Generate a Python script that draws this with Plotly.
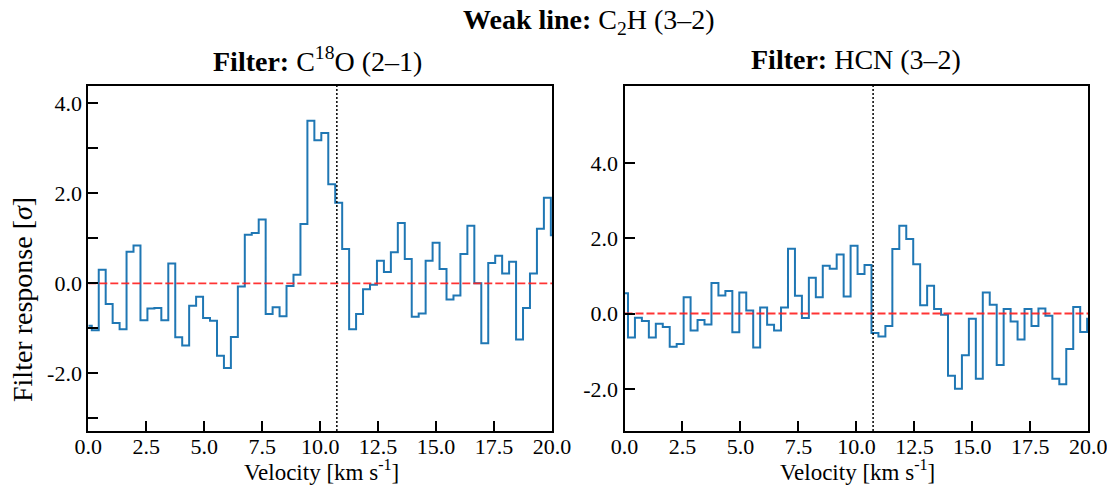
import plotly.graph_objects as go

# ---------------- data ----------------
CHANNEL_WIDTH = 0.3  # km/s
left_values = [-0.94, -1.04, 0.30, -0.46, -0.88, -1.02, 0.70, 0.84, -0.82, -0.56,
               -0.55, -0.82, 0.44, -1.20, -1.38, -0.50, -0.30, -0.77, -0.83, -1.61,
               -1.88, -1.19, -0.07, 1.08, 1.12, 1.42, -0.68, -0.53, -0.73, -0.06,
               0.19, 1.32, 3.61, 3.18, 3.34, 2.20, 1.79, 0.76, -1.02, -0.68,
               -0.13, -0.03, 0.50, 0.25, 0.69, 1.34, 0.54, -0.74, -0.67, 0.50,
               0.90, 0.32, -0.36, -0.27, 0.65, 1.28, 0.00, -1.33, 0.45, 0.61,
               0.22, 0.48, -1.25, -0.55, 0.22, 1.21, 1.90, 1.07]
right_values = [0.54, -0.64, -0.11, -0.20, -0.64, -0.27, -0.36, -0.88, -0.81, 0.43,
                -0.45, -0.17, -0.29, 0.81, 0.48, 0.60, -0.50, 0.56, 0.08, -0.90,
                0.16, -0.30, -0.45, 0.16, 1.72, 0.47, -0.12, 0.95, 0.43, 1.27,
                1.19, 1.57, 0.45, 1.80, 1.05, 1.29, -0.52, -0.61, -0.33, 1.71,
                2.33, 1.98, 1.31, 0.22, 0.74, 0.12, -0.03, -1.65, -2.00, -1.11,
                -0.14, -1.73, 0.56, 0.23, -1.37, 0.12, -0.21, -0.69, 0.12, -0.33,
                0.13, -0.06, -1.73, -1.88, -0.94, 0.17, -0.49, -0.14]
left_velocity = [round(i * CHANNEL_WIDTH, 2) for i in range(len(left_values))]
right_velocity = [round(i * CHANNEL_WIDTH, 2) for i in range(len(right_values))]
V_SOURCE = 10.72  # vertical dotted line (km/s)

x_tickvals = [0.0, 2.5, 5.0, 7.5, 10.0, 12.5, 15.0, 17.5, 20.0]
x_ticktext = ["0.0", "2.5", "5.0", "7.5", "10.0", "12.5", "15.0", "17.5", "20.0"]
left_y_tickvals = [-3, -2, -1, 0, 1, 2, 3, 4]
left_y_ticktext = ["", "-2.0", "", "0.0", "", "2.0", "", "4.0"]
right_y_tickvals = [-2, 0, 2, 4]
right_y_ticktext = ["-2.0", "0.0", "2.0", "4.0"]

main_title = "<b>Weak line:</b> C<sub>2</sub>H (3–2)"
left_title = "<b>Filter:</b> C<sup>18</sup>O (2–1)"
right_title = "<b>Filter:</b> HCN (3–2)"
x_label = "Velocity [km s<sup>-1</sup>]"
y_label = "Filter response [<i>σ</i>]"

# ---------------- layout constants ----------------
W, H = 1107, 491
FONT = "Liberation Serif"
BLUE = "#1f77b4"
RED = "rgba(255,30,30,0.9)"

def px_x(p):
    return p / W

def px_y(p):
    return 1 - p / H

y_dom = [px_y(431), px_y(85.7)]
left_dom = [px_x(88.3), px_x(552)]
right_dom = [px_x(624.5), px_x(1088.3)]

fig = go.Figure()

fig.add_trace(go.Scatter(x=left_velocity, y=left_values, mode="lines",
                         line=dict(shape="hvh", color=BLUE, width=2),
                         xaxis="x", yaxis="y", showlegend=False))
fig.add_trace(go.Scatter(x=[0, 20], y=[0, 0], mode="lines",
                         line=dict(color=RED, width=1.8, dash="8px,3px"),
                         xaxis="x", yaxis="y", showlegend=False))
fig.add_trace(go.Scatter(x=right_velocity, y=right_values, mode="lines",
                         line=dict(shape="hvh", color=BLUE, width=2),
                         xaxis="x2", yaxis="y2", showlegend=False))
fig.add_trace(go.Scatter(x=[0, 20], y=[0, 0], mode="lines",
                         line=dict(color=RED, width=1.8, dash="8px,3px"),
                         xaxis="x2", yaxis="y2", showlegend=False))

for xr, yr in (("x", "y"), ("x2", "y2")):
    fig.add_shape(type="line", xref=xr, yref=yr + " domain", x0=V_SOURCE, x1=V_SOURCE,
                  y0=0, y1=1, line=dict(color="black", width=1.5, dash="2px,2px"))

axis_common = dict(showline=True, linecolor="black", linewidth=2, mirror=True,
                   ticks="inside", ticklen=10, tickwidth=1.6, tickcolor="black",
                   showgrid=False, zeroline=False, automargin=False,
                   ticklabeloverflow="allow",
                   tickfont=dict(family=FONT, size=22, color="black"))
x_common = dict(axis_common, ticklabelstandoff=-5)

fig.update_layout(
    width=W, height=H,
    margin=dict(l=0, r=0, t=0, b=0, autoexpand=False),
    paper_bgcolor="white", plot_bgcolor="white",
    font=dict(family=FONT, color="black"),
    xaxis=dict(domain=left_dom, range=[0, 20], tickmode="array",
               tickvals=x_tickvals, ticktext=x_ticktext, anchor="y", **x_common),
    yaxis=dict(domain=y_dom, range=[-3.28, 4.39], tickmode="array",
               tickvals=left_y_tickvals, ticktext=left_y_ticktext, anchor="x", **axis_common),
    xaxis2=dict(domain=right_dom, range=[0, 20], tickmode="array",
                tickvals=x_tickvals, ticktext=x_ticktext, anchor="y2", **x_common),
    yaxis2=dict(domain=y_dom, range=[-3.12, 6.05], tickmode="array",
                tickvals=right_y_tickvals, ticktext=right_y_ticktext, anchor="x2", **axis_common),
)

ann = []
ann.append(dict(text=main_title, x=px_x(589), y=px_y(21), xref="paper", yref="paper",
                showarrow=False, xanchor="center", yanchor="middle",
                font=dict(family=FONT, size=28, color="black")))
ann.append(dict(text=left_title, x=px_x(317), y=px_y(59), xref="paper", yref="paper",
                showarrow=False, xanchor="center", yanchor="middle",
                font=dict(family=FONT, size=28, color="black")))
ann.append(dict(text=right_title, x=px_x(856), y=px_y(59), xref="paper", yref="paper",
                showarrow=False, xanchor="center", yanchor="middle",
                font=dict(family=FONT, size=28, color="black")))
ann.append(dict(text=x_label, x=px_x(321), y=px_y(470), xref="paper", yref="paper",
                showarrow=False, xanchor="center", yanchor="middle",
                font=dict(family=FONT, size=23, color="black")))
ann.append(dict(text=x_label, x=px_x(857), y=px_y(470), xref="paper", yref="paper",
                showarrow=False, xanchor="center", yanchor="middle",
                font=dict(family=FONT, size=23, color="black")))
ann.append(dict(text=y_label, x=px_x(22), y=px_y(300), xref="paper", yref="paper",
                showarrow=False, xanchor="center", yanchor="middle", textangle=-90,
                font=dict(family=FONT, size=28, color="black")))
fig.update_layout(annotations=ann)

fig.write_html("out.html", config={"displayModeBar": False},
               post_script="document.body.style.margin='0px';")
